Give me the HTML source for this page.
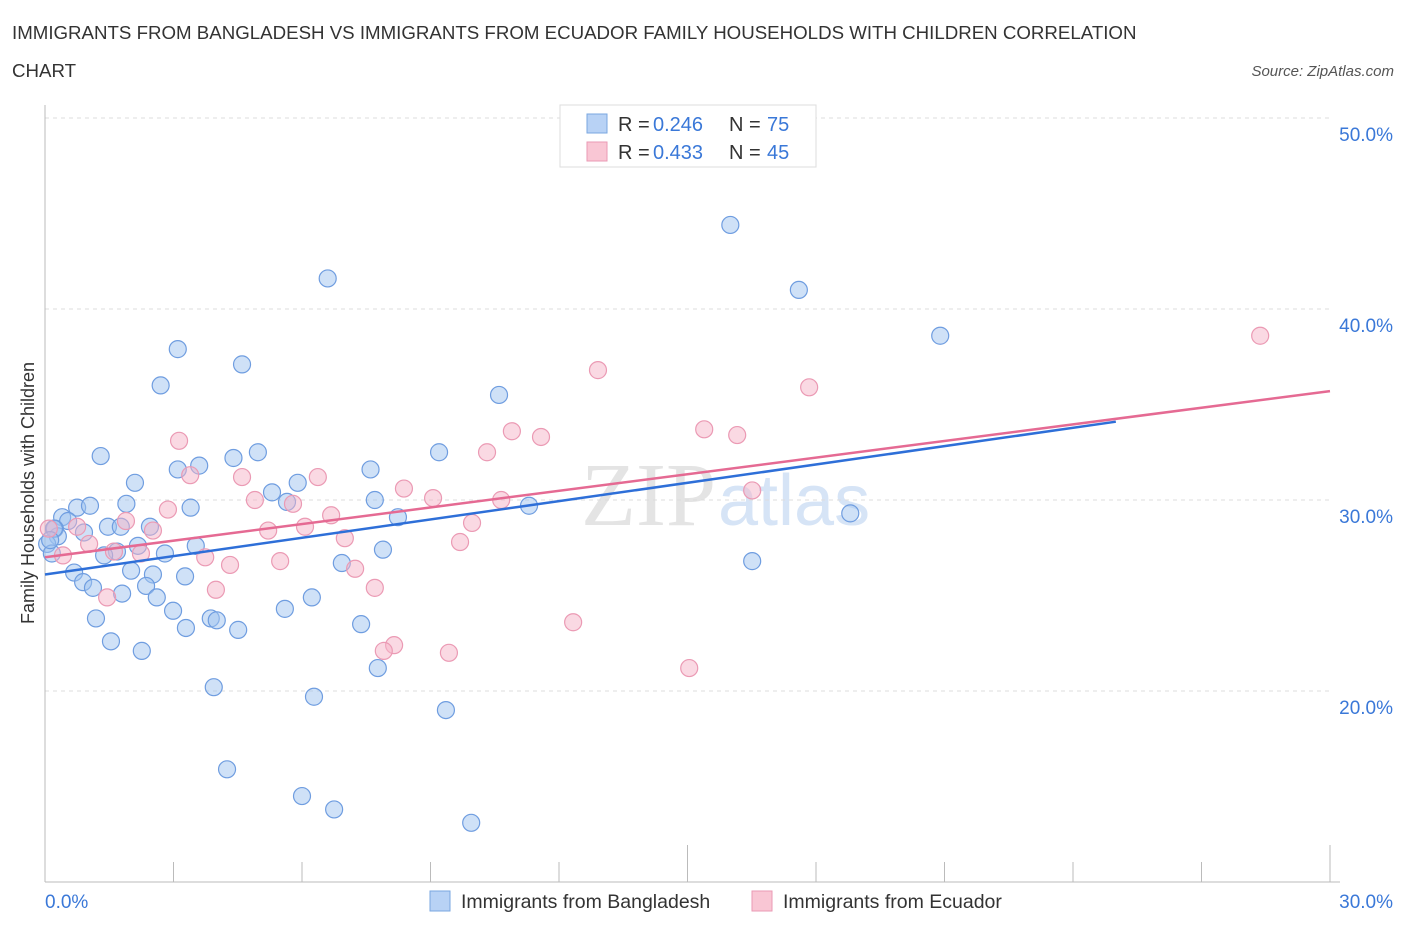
<!DOCTYPE html>
<html><head><meta charset="utf-8"><style>
body{margin:0;background:#fff;font-family:"Liberation Sans",sans-serif;}
</style></head><body>
<svg width="1406" height="930" xmlns="http://www.w3.org/2000/svg">
<text x="12" y="39" font-size="18.7" fill="#333">IMMIGRANTS FROM BANGLADESH VS IMMIGRANTS FROM ECUADOR FAMILY HOUSEHOLDS WITH CHILDREN CORRELATION</text>
<text x="12" y="77" font-size="18.7" fill="#333">CHART</text>
<text x="1394" y="76" font-size="15" fill="#555" font-style="italic" text-anchor="end">Source: ZipAtlas.com</text>
<text x="716" y="525" font-size="90" fill="#e4e4e4" text-anchor="end" font-family="Liberation Serif">ZIP</text>
<text x="718" y="525" font-size="72" fill="#d6e4f6">atlas</text>
<g id="grid"></g>
<g id="axes"></g>
<g id="marks"></g>
<g>
<rect x="560" y="105" width="256" height="62" fill="#fff" stroke="#ddd"/>
<rect x="587" y="114" width="20" height="19" fill="#b8d2f5" stroke="#7aa7e0"/>
<text x="618" y="131" font-size="20" fill="#333">R =</text>
<text x="653" y="131" font-size="20" fill="#3a78d8">0.246</text>
<text x="729" y="131" font-size="20" fill="#333">N =</text>
<text x="767" y="131" font-size="20" fill="#3a78d8">75</text>
<rect x="587" y="142" width="20" height="19" fill="#f9c6d4" stroke="#ea9ab4"/>
<text x="618" y="159" font-size="20" fill="#333">R =</text>
<text x="653" y="159" font-size="20" fill="#3a78d8">0.433</text>
<text x="729" y="159" font-size="20" fill="#333">N =</text>
<text x="767" y="159" font-size="20" fill="#3a78d8">45</text>
</g>
<g>
<rect x="430" y="891" width="20" height="20" fill="#b8d2f5" stroke="#7aa7e0"/>
<text x="461" y="908" font-size="19.5" fill="#333">Immigrants from Bangladesh</text>
<rect x="752" y="891" width="20" height="20" fill="#f9c6d4" stroke="#ea9ab4"/>
<text x="783" y="908" font-size="19.5" fill="#333">Immigrants from Ecuador</text>
</g>
</svg>
<script>
const yTicks=[20,30,40,50];
const xTickLabels=["0.0%","30.0%"];
const blueX=[16.0,6.6,17.6,20.9,3.1,4.6,2.7,10.6,1.3,9.2,4.97,4.4,3.6,3.1,7.6,5.9,2.1,5.3,1.9,5.65,7.7,0.75,1.05,3.4,11.3,0.4,0.54,18.8,8.24,1.47,1.77,2.45,0.23,0.91,0.3,0.05,2.17,3.52,1.68,7.89,1.38,2.8,0.16,6.93,16.51,0.68,2.01,2.52,3.27,0.89,1.12,2.36,1.8,2.61,6.23,2.99,5.6,1.19,3.87,4.01,3.29,4.51,7.38,1.54,2.26,7.77,3.94,6.28,9.36,4.25,6.0,6.75,9.95,0.21,0.12];
const blueY=[44.4,41.6,41.0,38.6,37.9,37.1,36.0,35.5,32.3,32.5,32.5,32.2,31.8,31.6,31.6,30.9,30.9,30.4,29.8,29.9,30.0,29.6,29.7,29.6,29.7,29.1,28.9,29.3,29.1,28.6,28.6,28.6,28.5,28.3,28.1,27.7,27.6,27.6,27.3,27.4,27.1,27.2,27.2,26.7,26.8,26.2,26.3,26.1,26.0,25.7,25.4,25.5,25.1,24.9,24.9,24.2,24.3,23.8,23.8,23.7,23.3,23.2,23.5,22.6,22.1,21.2,20.2,19.7,19.0,15.9,14.5,13.8,13.1,28.5,27.9];
const pinkX=[28.37,12.91,17.84,10.9,15.39,16.16,11.58,3.13,10.32,4.6,6.37,3.39,8.38,16.51,4.9,9.06,10.65,5.79,2.87,6.68,1.89,9.97,0.75,0.09,5.21,6.07,2.52,7.0,9.69,1.03,1.61,2.24,3.74,0.42,5.49,4.32,7.24,7.7,3.99,1.45,12.33,8.15,7.91,9.43,15.04];
const pinkY=[38.6,36.8,35.9,33.6,33.7,33.4,33.3,33.1,32.5,31.2,31.2,31.3,30.6,30.5,30.0,30.1,30.0,29.8,29.5,29.2,28.9,28.8,28.6,28.5,28.4,28.6,28.4,28.0,27.8,27.7,27.3,27.2,27.0,27.1,26.8,26.6,26.4,25.4,25.3,24.9,23.6,22.4,22.1,22.0,21.2];
const blueLine=[[0,26.1],[25,34.1]];
const pinkLine=[[0,27.0],[30,35.7]];
const X0=45,X1=1330,YB=882,YT=118;
function sx(v){return X0+(X1-X0)*v/30;}
function sy(v){return YB-(YB-YT)*(v-10)/40;}
const NS="http://www.w3.org/2000/svg";
function mk(t,a,p){const e=document.createElementNS(NS,t);for(const k in a)e.setAttribute(k,a[k]);p.appendChild(e);return e;}
const grid=document.getElementById('grid'),axes=document.getElementById('axes'),marks=document.getElementById('marks');
yTicks.forEach(v=>{
 const l=mk('line',{x1:X0,x2:1330,y1:sy(v),y2:sy(v),stroke:'#ddd','stroke-dasharray':'4,4'},grid);
 
 
 const t=mk('text',{x:1393,y:sy(v)+23,'font-size':19,fill:'#3a78d8','text-anchor':'end'},axes);
 t.textContent=v.toFixed(1)+'%';
 
 
});
const ya=mk('line',{x1:X0,x2:X0,y1:105,y2:YB,stroke:'#bbb'},axes);


const xa=mk('line',{x1:X0,x2:1340,y1:YB,y2:YB,stroke:'#bbb'},axes);


for(let k=0;k<=10;k++){
 const tall=(k==5||k==10);
 const tk=mk('line',{x1:sx(k*3),x2:sx(k*3),y1:tall?845:862,y2:YB,stroke:'#bbb'},axes);
 
 
}
[[0,xTickLabels[0],'start',45],[30,xTickLabels[1],'end',1393]].forEach(d=>{
 const t=mk('text',{x:d[3],y:908,'font-size':19,fill:'#3a78d8','text-anchor':d[2]},axes);
 t.textContent=d[1];
 
 
});
const yt=mk('text',{x:0,y:0,'font-size':18,fill:'#333','text-anchor':'middle',transform:'translate(34,493) rotate(-90)'},axes);
yt.textContent='Family Households with Children';


blueX.forEach((x,i)=>{
 const c=mk('circle',{cx:sx(x),cy:sy(blueY[i]),r:8.5,fill:'rgba(160,195,240,0.5)',stroke:'#6f9de0','stroke-width':1.2},marks);
 
 
});
pinkX.forEach((x,i)=>{
 const c=mk('circle',{cx:sx(x),cy:sy(pinkY[i]),r:8.5,fill:'rgba(245,180,200,0.5)',stroke:'#eb9ab4','stroke-width':1.2},marks);
 
 
});
const bl=mk('line',{x1:sx(blueLine[0][0]),y1:sy(blueLine[0][1]),x2:sx(blueLine[1][0]),y2:sy(blueLine[1][1]),stroke:'#2e6fd8','stroke-width':2.5},marks);


const pl=mk('line',{x1:sx(pinkLine[0][0]),y1:sy(pinkLine[0][1]),x2:sx(pinkLine[1][0]),y2:sy(pinkLine[1][1]),stroke:'#e56a93','stroke-width':2.5},marks);


</script>
</body></html>
